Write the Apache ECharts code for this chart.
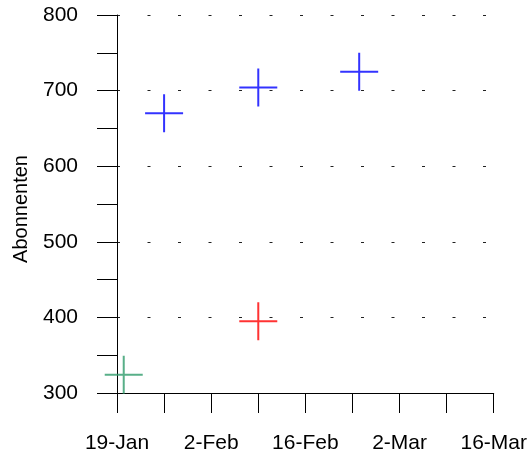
<!DOCTYPE html>
<html>
<head>
<meta charset="utf-8">
<script src="https://cdn.jsdelivr.net/npm/echarts@6/dist/echarts.min.js"></script>
<style>
  html, body { margin: 0; padding: 0; background: #fff; }
  #chart { width: 530px; height: 457px; }
</style>
</head>
<body>
<div id="chart"></div>
<script>
// data
const startDate = "2017-01-19";
const xTickLabels = ["19-Jan", "2-Feb", "16-Feb", "2-Mar", "16-Mar"];
const blueDates = ["2017-01-26", "2017-02-09", "2017-02-24"];
const blueValues = [670, 704, 725];
const redDates = ["2017-02-09"];
const redValues = [395];
const greenDates = ["2017-01-20"];
const greenValues = [324];

// days since the first tick
function dayOffset(d) {
  return (Date.parse(d) - Date.parse(startDate)) / 864e5;
}
function toPoints(dates, values) {
  return dates.map((d, i) => [dayOffset(d), values[i]]);
}

const font = "'Liberation Sans', Arial, sans-serif";
const cross = "path://M0,19H38M19,0V38";

function crossSeries(name, data, color) {
  return {
    name: name,
    type: "scatter",
    data: data,
    symbol: cross,
    symbolSize: 38,
    itemStyle: { color: "rgba(0,0,0,0)", borderColor: color, borderWidth: 2 },
    emphasis: { disabled: true },
    silent: true,
  };
}

const myChart = echarts.init(document.getElementById("chart"), null, { renderer: "canvas" });
myChart.setOption({
  animation: false,
  backgroundColor: "#fff",
  grid: { left: 117, top: 15, width: 377, height: 378 },
  xAxis: {
    type: "value",
    min: 0,
    max: 56,
    interval: 14,
    axisLine: { show: true, lineStyle: { color: "#000", width: 1 } },
    axisTick: { show: true, length: 20, lineStyle: { color: "#000" } },
    minorTick: { show: true, splitNumber: 2, length: 20, lineStyle: { color: "#000" } },
    splitLine: { show: false },
    axisLabel: {
      margin: 40,
      fontSize: 21,
      fontFamily: font,
      color: "#000",
      formatter: (v) => xTickLabels[Math.round(v / 14)],
    },
  },
  yAxis: {
    type: "value",
    min: 300,
    max: 800,
    interval: 100,
    name: "Abonnenten",
    nameLocation: "middle",
    nameGap: 86,
    nameTextStyle: { fontSize: 20, fontFamily: font, color: "#000", padding: [0, 10, 0, 0] },
    axisLine: { show: true, lineStyle: { color: "#000", width: 1 } },
    axisTick: { show: true, length: 20, lineStyle: { color: "#000" } },
    minorTick: { show: true, splitNumber: 2, length: 20, lineStyle: { color: "#000" } },
    splitLine: {
      show: true,
      lineStyle: { color: "#222", width: 1, type: [3, 27.5] },
    },
    axisLabel: { margin: 39, fontSize: 21, fontFamily: font, color: "#000" },
  },
  series: [
    crossSeries("blue", toPoints(blueDates, blueValues), "#0000ff"),
    crossSeries("red", toPoints(redDates, redValues), "#ff0000"),
    crossSeries("green", toPoints(greenDates, greenValues), "#2e9b6a"),
  ],
});
</script>
</body>
</html>
